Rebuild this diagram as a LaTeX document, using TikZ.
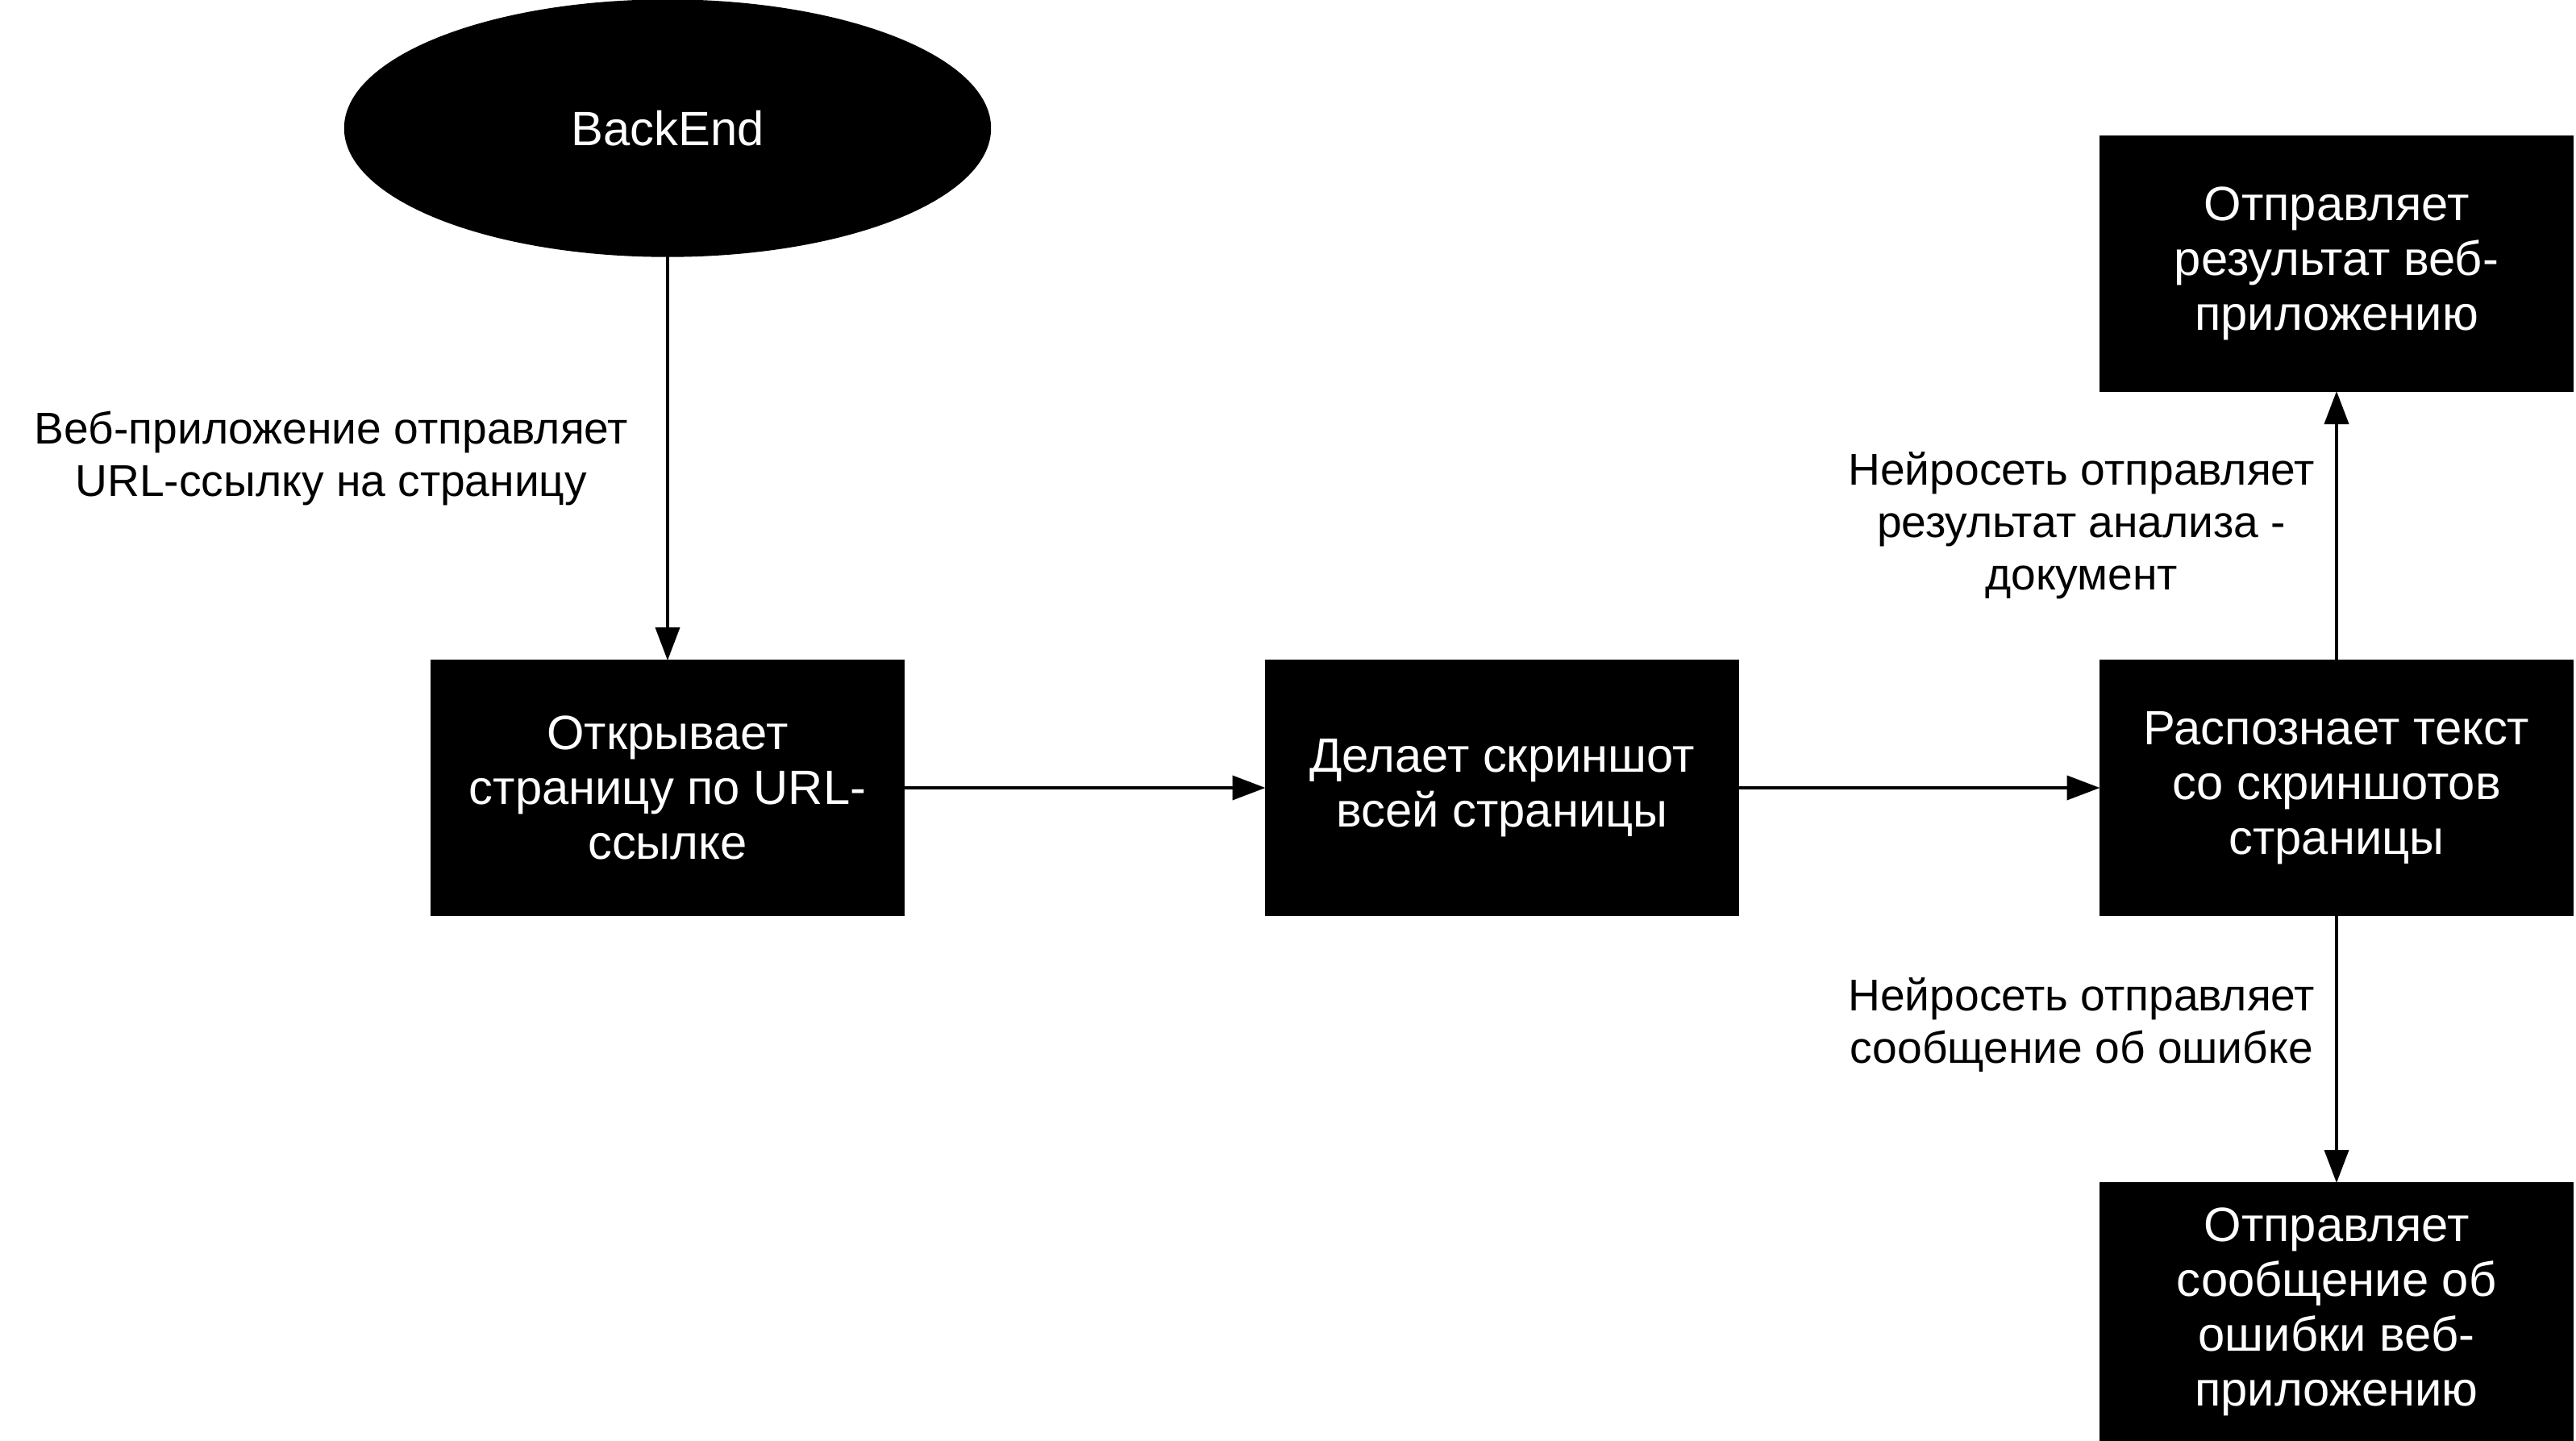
\documentclass[tikz,border=0pt]{standalone}
\usepackage{fontspec}
\setmainfont{Liberation Sans}
\usetikzlibrary{shapes.geometric, arrows.meta, positioning}
\tikzstyle{startstop} = [ellipse, minimum width=8.01cm, minimum height=3.18cm, inner sep=0pt, outer sep=0pt, text centered, draw=black, fill=black, text=white, font=\fontsize{17}{19.4}\selectfont]
\tikzstyle{process} = [rectangle, minimum width=5.87cm, minimum height=3.16cm, inner sep=0pt, outer sep=0pt, align=center, draw=black, fill=black, text=white, font=\fontsize{17}{19.4}\selectfont]
\tikzstyle{edgetext} = [inner sep=0pt, align=center, text=black, font=\fontsize{15.7}{18.5}\selectfont]
\tikzstyle{arrow} = [line width=1.1pt,-{Triangle[length=0.41cm,width=0.3cm]}]
\begin{document}
\begin{tikzpicture}
        \useasboundingbox (0,0) rectangle (31.95,-17.87);
        % Nodes
        \node (backend) [startstop] at (8.28,-1.59) {BackEnd};
        \node (openPage) [process, below=5.01cm of backend] {Открывает\\страницу по URL-\\ссылке};
        \node (screenshot) [process, right=4.48cm of openPage] {Делает скриншот\\всей страницы};
        \node (recognize) [process, right=4.48cm of screenshot] {Распознает текст\\со скриншотов\\страницы};
        \node (sendResult) [process, above=3.34cm of recognize] {Отправляет\\результат веб-\\приложению};
        \node (sendError) [process, below=3.32cm of recognize, minimum height=3.2cm] {Отправляет\\сообщение об\\ошибки веб-\\приложению};

        % Arrows
        \draw [arrow] (backend) -- (openPage) node[midway, left=0.47cm, edgetext] {Веб-приложение отправляет\\URL-ссылку на страницу};
        \draw [arrow] (openPage) -- (screenshot);
        \draw [arrow] (screenshot) -- (recognize);
        \draw [arrow] (recognize) -- (sendResult) node[midway, left=0.25cm, edgetext] {Нейросеть отправляет\\результат анализа -\\документ};
        \draw [arrow] (recognize) -- (sendError) node[midway, left=0.25cm, yshift=0.3cm, edgetext] {Нейросеть отправляет\\сообщение об ошибке};
    \end{tikzpicture}
\end{document}
